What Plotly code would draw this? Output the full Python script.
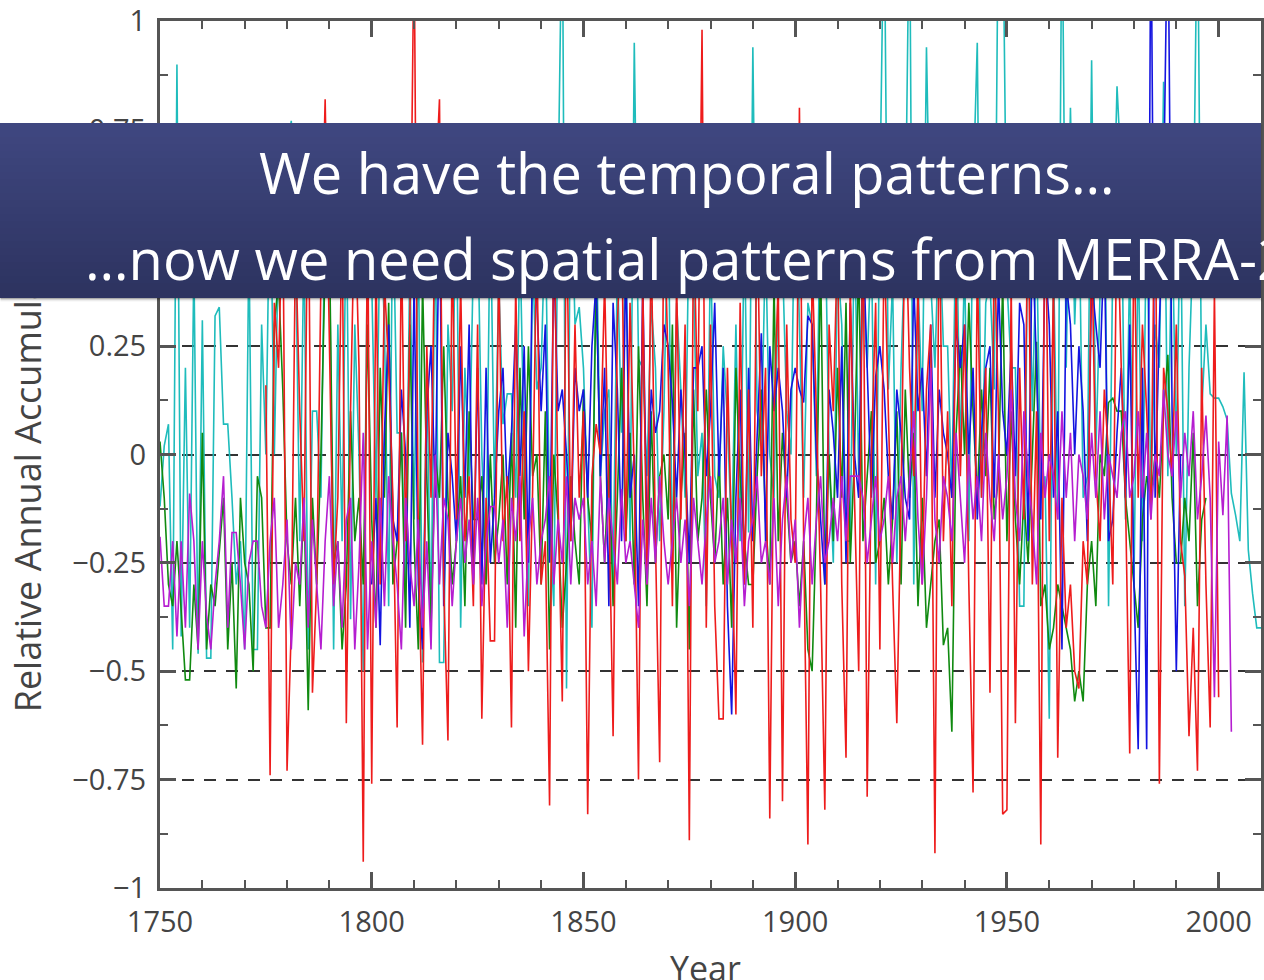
import plotly.graph_objects as go

# ---------------- data ----------------
cyan_start = 1750
cyan_vals = [
    -0.12, 0.02, 0.07, -0.45, 0.90, -0.42, 0.20, -0.40, 0.45, -0.46,
    0.31, -0.47, -0.47, 0.32, 0.34, 0.07, 0.07, -0.10, -0.30, -0.20,
    -0.45, 0.50, -0.45, -0.45, 0.30, 0.00, 0.68, 0.00, 0.50, 0.60,
    0.70, 0.77, 0.50, -0.20, 0.50, -0.45, 0.10, 0.10, -0.10, 0.60,
    0.50, -0.45, 0.30, -0.20, 0.60, -0.38, 0.30, 0.00, -0.50, 0.50,
    0.40, -0.10, 0.55, 0.30, -0.35, 0.60, 0.05, 0.05, -0.30, 0.45,
    -0.15, 0.50, -0.48, 0.20, -0.40, 0.55, -0.48, -0.48, 0.30, 0.10,
    0.60, -0.40, 0.20, -0.05, 0.45, 0.55, 0.00, -0.25, 0.60, -0.10,
    0.40, 0.07, 0.14, 0.14, -0.10, 0.50, 0.00, -0.35, 0.45, 0.15,
    0.20, 0.55, -0.15, -0.35, 0.60, 1.30, -0.54, 0.70, 0.30, 0.34,
    0.20, -0.10, -0.40, 0.55, -0.05, 0.10, 0.15, -0.30, 0.45, 0.05,
    0.50, -0.20, 0.95, 0.22, 0.20, -0.05, 0.35, 0.20, -0.20, 0.10,
    0.60, -0.25, 0.35, 0.15, -0.10, 0.60, 0.40, -0.05, 0.05, -0.35,
    0.50, -0.05, -0.10, 0.25, 0.08, -0.20, 0.30, -0.20, 0.55, -0.18,
    0.94, 0.10, 0.02, 0.50, 0.00, -0.10, 0.40, 0.45, 0.10, 0.00,
    0.70, 0.30, -0.10, 0.35, 0.30, -0.05, 0.65, 0.60, 0.00, -0.25,
    0.45, 0.30, -0.20, -0.20, 0.55, -0.05, 0.40, 0.20, 0.50, -0.30,
    0.60, 1.30, 0.15, 0.40, -0.25, 0.20, 0.50, 1.30, -0.30, 0.40,
    0.10, 0.94, 0.40, 0.20, 0.55, 0.25, 0.25, -0.10, 0.60, 0.00,
    0.45, -0.20, 0.60, 0.95, -0.10, 0.35, 0.40, 0.15, 1.30, 1.30,
    0.40, 0.20, 0.20, -0.35, -0.35, 0.60, 0.10, 0.50, -0.10, -0.05,
    -0.61, 0.45, -0.15, 1.30, 0.20, 0.80, 0.30, 0.60, -0.10, -0.05,
    0.91, 0.00, 0.40, 0.75, -0.35, 0.45, 0.85, 0.65, -0.15, 0.45,
    -0.30, 0.50, -0.20, 0.60, -0.10, 0.30, 0.20, 0.86, -0.05, 0.55,
    0.00, 0.60, -0.35, 0.20, 0.50, 1.30, 0.10, 0.30, 0.14, 0.13,
    0.13, 0.11, 0.08, -0.09, -0.14, -0.20, 0.19, -0.22, -0.32, -0.40,
    -0.40,
]

green_start = 1750
green_vals = [
    0.03, -0.10, -0.30, -0.35, -0.20, -0.35, -0.52, -0.52, -0.30, -0.45,
    0.05, -0.45, -0.30, -0.35, -0.22, -0.10, -0.45, -0.25, -0.54, -0.10,
    -0.25, -0.30, -0.50, -0.05, -0.10, -0.40, -0.40, 0.30, 0.40, 0.15,
    -0.20, -0.30, -0.10, -0.35, -0.10, -0.59, -0.10, -0.30, 0.00, 0.45,
    0.50, -0.25, -0.20, -0.45, -0.30, 0.10, -0.20, -0.10, -0.30, 0.30,
    -0.15, -0.40, 0.20, -0.10, 0.35, -0.30, -0.20, 0.05, -0.40, 0.30,
    -0.20, -0.45, 0.40, -0.05, -0.40, 0.00, -0.10, 0.25, -0.10, -0.30,
    -0.20, -0.05, -0.35, 0.10, -0.15, -0.15, -0.05, -0.30, 0.00, -0.25,
    -0.15, 0.00, -0.30, 0.05, -0.40, 0.20, -0.15, 0.25, -0.05, 0.00,
    -0.30, 0.10, -0.45, 0.00, -0.15, -0.40, -0.25, -0.05, -0.20, -0.30,
    0.15, -0.10, -0.20, 0.40, -0.05, -0.25, 0.00, -0.35, -0.10, 0.20,
    -0.20, 0.05, -0.30, 0.25, -0.10, -0.35, 0.10, -0.25, -0.05, 0.00,
    -0.15, 0.30, -0.40, -0.10, 0.05, -0.45, 0.15, -0.20, -0.10, 0.15,
    -0.10, -0.25, 0.00, -0.30, -0.10, -0.40, 0.20, -0.05, -0.20, -0.30,
    -0.30, -0.05, 0.15, -0.15, -0.30, 0.40, -0.20, 0.05, -0.10, -0.25,
    -0.20, -0.35, -0.20, -0.45, -0.50, -0.15, 0.45, -0.30, 0.00, -0.20,
    0.20, -0.10, 0.35, -0.25, 0.00, 0.45, -0.20, -0.05, 0.10, -0.25,
    -0.20, -0.10, -0.30, -0.15, 0.10, -0.30, 0.15, -0.10, 0.05, -0.35,
    -0.10, -0.40, -0.30, -0.20, -0.15, -0.44, -0.40, -0.64, 0.05, 0.25,
    0.00, 0.35, 0.10, -0.10, 0.15, -0.05, 0.20, -0.15, -0.05, 0.40,
    -0.20, 0.10, -0.15, -0.30, -0.10, -0.25, 0.00, 0.26, -0.35, -0.30,
    -0.45, -0.40, -0.30, -0.35, -0.40, -0.45, -0.57, -0.50, -0.57, -0.30,
    -0.20, -0.35, 0.00, -0.05, 0.12, 0.13, 0.10, 0.10, -0.10, -0.20,
    -0.30, -0.40, -0.15, -0.05, -0.10, 0.00, -0.10, 0.10, 0.23, -0.10,
    -0.25, -0.25, -0.10, -0.20, 0.05, -0.35, -0.15, -0.10,
]

blue_start = 1800
blue_vals = [
    -0.30, -0.10, -0.44, 0.05, 0.30, -0.15, -0.20, 0.15, 0.00, -0.40,
    0.40, -0.30, -0.45, 0.10, 0.25, -0.10, 0.60, -0.35, 0.05, -0.05,
    -0.20, 0.25, -0.10, 0.30, -0.30, 0.20, -0.30, 0.20, -0.25, -0.10,
    0.10, 0.20, -0.10, 0.05, 0.30, -0.05, 0.25, -0.25, 0.50, 0.35,
    0.10, 0.30, -0.25, 0.45, 0.10, 0.15, 0.00, -0.20, 0.20, 0.10,
    0.15, -0.10, 0.25, 0.40, -0.05, 0.20, -0.35, 0.35, 0.15, -0.20,
    0.45, -0.10, 0.00, -0.35, 0.40, -0.20, 0.15, 0.05, 0.10, 0.30,
    0.25, 0.12, -0.10, 0.15, 0.00, -0.25, 0.20, 0.20, 0.25, -0.05,
    0.10, 0.35, -0.05, 0.20, -0.35, -0.60, -0.10, 0.15, -0.30, 0.20,
    -0.20, 0.05, 0.28, -0.20, 0.25, 0.10, 0.20, 0.10, -0.10, 0.15,
    0.20, 0.15, 0.12, 0.32, 0.30, 0.00, -0.15, -0.30, 0.15, 0.05,
    -0.10, 0.25, -0.25, 0.35, 0.00, -0.10, 0.50, 0.20, -0.10, 0.18,
    0.25, 0.15, -0.05, -0.15, 0.15, 0.05, -0.10, -0.15, 0.40, 0.10,
    0.20, -0.05, 0.30, -0.10, 0.15, 0.05, 0.00, -0.10, 0.30, 0.20,
    0.30, 0.00, 0.20, -0.15, 0.05, 0.20, 0.25, -0.10, 0.40, 0.10,
    0.00, 0.25, -0.05, 0.35, 0.30, -0.20, 0.50, 0.20, -0.15, 0.45,
    0.30, -0.10, 0.10, -0.45, 0.40, 0.30, 0.00, 0.25, 0.10, -0.20,
    0.40, 0.30, 0.20, 0.50, -0.20, -0.15, 0.05, 0.20, -0.10, 0.30,
    -0.30, -0.68, 0.20, -0.68, 1.30, -0.10, 0.30, 0.60, 1.30, 0.10,
    -0.50, 0.00,
]

red_start = 1775
red_vals = [
    0.16, -0.74, 0.35, 0.20, 0.60,
    -0.73, -0.40, 0.50, 0.10, -0.20, 0.70, -0.55, -0.30, 0.40, 0.82,
    0.30, -0.30, -0.10, 0.55, -0.62, 0.10, 0.60, 0.20, -0.94, 0.60,
    -0.76, 0.45, -0.30, 0.40, 0.20, -0.10, -0.63, 0.50, -0.20, 0.30,
    1.20, -0.20, -0.67, 0.25, -0.10, 0.60, 0.82, -0.30, -0.66, 0.50,
    -0.15, 0.40, -0.20, -0.05, -0.35, 0.30, -0.61, -0.10, -0.43, -0.43,
    0.45, -0.20, -0.05, -0.63, 0.40, -0.20, 0.10, -0.50, -0.08, 0.50,
    -0.30, -0.20, -0.81, 0.60, -0.10, -0.57, 0.60, -0.20, 0.30, -0.10,
    0.10, -0.83, -0.05, 0.07, 0.00, 0.40, -0.10, -0.65, 0.30, 0.55,
    -0.20, 0.35, -0.05, -0.75, 0.40, -0.30, 0.50, -0.20, -0.71, 0.60,
    0.20, -0.35, 0.40, -0.15, 0.30, -0.89, 0.55, 0.10, 0.98, -0.40,
    0.30, -0.35, -0.61, -0.61, 0.20, -0.20, -0.60, 0.35, -0.30, 0.15,
    -0.40, 0.60, -0.05, 0.20, -0.84, 0.10, 0.40, -0.80, 0.30, -0.15,
    -0.25, 0.80, -0.20, -0.90, 0.45, 0.10, -0.30, -0.82, 0.30, 0.10,
    0.50, -0.30, -0.70, 0.40, -0.10, -0.50, 0.60, -0.79, 0.00, 0.35,
    -0.45, 0.50, 0.10, -0.30, -0.62, -0.10, 0.60, 0.20, -0.05, 0.40,
    -0.30, 0.15, 0.30, -0.92, 0.60, -0.20, 0.10, -0.35, 0.40, -0.05,
    0.30, -0.30, -0.78, 0.45, -0.10, 0.20, -0.55, 0.50, 0.10, -0.83,
    -0.82, 0.40, -0.62, 0.20, -0.15, 0.60, -0.30, 0.10, -0.90, 0.70,
    -0.20, 0.40, -0.70, -0.10, -0.40, -0.30, -0.50, -0.54, -0.20, -0.30,
    0.50, -0.05, -0.20, 0.15, 0.00, -0.30, 0.60, 0.20, -0.10, -0.69,
    0.55, -0.10, 0.30, 0.10, -0.15, 0.70, -0.76, 0.20, 0.10, -0.05,
    0.30, -0.20, -0.28, -0.65, -0.40, -0.73, 0.20, -0.30, -0.63, 0.38,
    -0.56,
]

magenta_start = 1750
magenta_vals = [
    -0.19, -0.35, -0.35, -0.20, -0.42, -0.20, -0.40, -0.09, -0.20, -0.45,
    -0.20, -0.37, -0.45, -0.30, -0.20, -0.05, -0.40, -0.18, -0.18, -0.30,
    -0.45, -0.25, -0.20, -0.20, -0.35, -0.40, -0.20, -0.10, -0.40, -0.30,
    -0.15, -0.45, -0.25, -0.30, -0.10, -0.40, -0.15, -0.30, -0.45, -0.20,
    -0.05, -0.35, -0.20, -0.40, -0.15, -0.10, -0.45, -0.25, 0.05, -0.45,
    -0.20, -0.40, -0.10, -0.35, -0.05, -0.20, -0.30, -0.45, -0.10, -0.25,
    -0.35, -0.15, -0.40, -0.20, -0.45, 0.00, -0.30, -0.10, -0.15, -0.35,
    -0.20, -0.10, -0.25, -0.15, -0.30, -0.10, -0.35, -0.20, -0.12, -0.12,
    -0.25, -0.15, -0.40, -0.10, -0.20, -0.05, -0.42, -0.20, -0.10, -0.30,
    -0.20, -0.15, -0.05, -0.30, -0.15, -0.25, -0.05, -0.30, -0.10, -0.15,
    -0.10, -0.30, -0.20, -0.35, -0.05, -0.25, -0.10, -0.20, -0.30, -0.08,
    -0.25, -0.20, -0.30, -0.40, -0.15, -0.30, -0.10, -0.25, -0.05, -0.20,
    -0.30, -0.20, -0.10, -0.25, -0.15, -0.35, -0.10, -0.20, -0.30, -0.15,
    -0.05, -0.25, -0.20, -0.10, -0.30, -0.15, -0.25, -0.10, -0.35, -0.20,
    -0.15, -0.05, -0.25, -0.20, -0.30, -0.10, -0.35, -0.15, -0.05, -0.25,
    -0.15, -0.40, -0.20, -0.10, -0.30, -0.15, -0.05, -0.25, -0.20, -0.10,
    -0.20, -0.05, -0.20, -0.05, -0.05, -0.05, -0.10, -0.25, -0.15, -0.05,
    -0.20, -0.15, -0.05, -0.25, -0.10, -0.05, -0.20, -0.05, 0.10, -0.15,
    -0.30, -0.10, 0.20, -0.15, -0.25, -0.05, -0.10, -0.20, 0.05, -0.10,
    -0.25, 0.00, -0.15, -0.05, -0.20, 0.05, -0.10, -0.20, 0.00, -0.15,
    -0.05, 0.15, -0.10, -0.20, 0.10, -0.05, -0.15, -0.30, 0.05, -0.10,
    0.00, -0.05, -0.15, 0.10, -0.10, 0.05, -0.20, 0.00, -0.05, -0.15,
    0.05, -0.10, 0.10, -0.15, 0.00, -0.05, -0.10, 0.05, 0.10, -0.10,
    -0.05, 0.10, -0.10, 0.05, -0.15, 0.00, -0.05, 0.15, 0.00, -0.05,
    0.10, -0.10, 0.05, -0.05, 0.10, -0.15, -0.05, 0.09, -0.10, -0.56,
    0.03, -0.14, 0.09, -0.64,
]

y_tick_vals = [-1, -0.75, -0.5, -0.25, 0, 0.25, 0.5, 0.75, 1]
y_tick_text = ["\u22121", "\u22120.75", "\u22120.5", "\u22120.25", "0", "0.25", "0.5", "0.75", "1"]
x_tick_vals = [1750, 1800, 1850, 1900, 1950, 2000]
x_tick_text = ["1750", "1800", "1850", "1900", "1950", "2000"]

banner_line1 = "We have the temporal patterns\u2026"
banner_line2 = "\u2026now we need spatial patterns from MERRA-2"
x_title = "Year"
y_title = "Relative Annual Accumulation"

# ---------------- figure ----------------
W, H = 1264, 980
ML, MR, MT, MB = 160, 0, 17, 92
PW, PH = W - ML - MR, H - MT - MB


def px_x(x):
    return (x - ML) / PW


def px_y(y):
    return (H - MB - y) / PH


def years(start, vals):
    return list(range(start, start + len(vals)))


series = [
    ("cyan", cyan_start, cyan_vals, "#1fbcbc"),
    ("green", green_start, green_vals, "#108a10"),
    ("blue", blue_start, blue_vals, "#1414e0"),
    ("red", red_start, red_vals, "#ee1c1c"),
    ("magenta", magenta_start, magenta_vals, "#b51ed0"),
]

fig = go.Figure()
for name, st, vals, col in series:
    fig.add_trace(go.Scatter(x=years(st, vals), y=vals, mode="lines", name=name,
                             line=dict(color=col, width=1.6), showlegend=False))

axis_col = "#555555"
tick_font = dict(family="Open Sans", size=29, color="#444444")

fig.update_layout(
    width=W, height=H,
    margin=dict(l=ML, r=MR, t=MT, b=MB, pad=0),
    paper_bgcolor="white", plot_bgcolor="white",
    xaxis=dict(range=[1750, 2010], tickvals=x_tick_vals, ticktext=x_tick_text,
               ticks="inside", ticklen=16, tickwidth=2.5, tickcolor=axis_col,
               minor=dict(dtick=10, tick0=1750, ticks="inside", ticklen=8, tickwidth=2.2, tickcolor=axis_col, showgrid=False),
               showline=True, linecolor=axis_col, linewidth=3, mirror="allticks",
               showgrid=False, zeroline=False, tickfont=tick_font, ticklabelstandoff=6,
               ticklabeloverflow="allow"),
    yaxis=dict(range=[-1.0004, 1.0004], tickvals=y_tick_vals, ticktext=y_tick_text,
               ticks="inside", ticklen=16, tickwidth=2.5, tickcolor=axis_col,
               minor=dict(dtick=0.125, tick0=-1, ticks="inside", ticklen=8, tickwidth=2.2, tickcolor=axis_col, showgrid=False),
               showline=True, linecolor=axis_col, linewidth=3, mirror="allticks",
               showgrid=True, gridcolor="#333333", gridwidth=1.5, griddash="12px,10px",
               zeroline=False, tickfont=tick_font, ticklabelstandoff=5,
               ticklabeloverflow="allow"),
)

# axis titles (added before the banner so the banner covers their hidden part)
fig.add_annotation(text=x_title, xref="paper", yref="paper", x=px_x(707), y=px_y(968),
                   showarrow=False, font=dict(family="Open Sans", size=34, color="#444444"),
                   xanchor="center", yanchor="middle")
fig.add_annotation(text=y_title, xref="paper", yref="paper", x=px_x(28), y=px_y(461),
                   showarrow=False, textangle=-90, font=dict(family="Open Sans", size=36, color="#444444"),
                   xanchor="center", yanchor="middle")

# banner
top_px, bot_px, right_px = 120, 295, 1262
top_rgb, bot_rgb = (63, 71, 128), (45, 51, 96)
# soft shadow around the banner
for k, a in enumerate([0.22, 0.12, 0.06, 0.03]):
    fig.add_shape(type="rect", xref="paper", yref="paper", layer="above",
                  x0=px_x(0), x1=px_x(right_px + k + 1), y0=px_y(bot_px + k + 1), y1=px_y(top_px + 1),
                  fillcolor="rgba(0,0,0,%.2f)" % a, line=dict(width=0))
# gradient body built from stacked strips (annotation boxes so they sit above the axis title)
n = 25
step = (bot_px - top_px) / n
for i in range(n):
    t = i / (n - 1)
    c = tuple(round(a + (b - a) * t) for a, b in zip(top_rgb, bot_rgb))
    yc = top_px + step * (i + 0.5)
    fig.add_annotation(text=" ", xref="paper", yref="paper", x=px_x(right_px / 2), y=px_y(yc),
                       xanchor="center", yanchor="middle", showarrow=False,
                       width=right_px, height=step + 1.2, bgcolor="rgb(%d,%d,%d)" % c,
                       borderpad=0, borderwidth=0, font=dict(size=1))

banner_font = dict(family="Open Sans", size=56, color="white")
fig.add_annotation(text=banner_line1, xref="paper", yref="paper", x=px_x(688), y=px_y(169),
                   showarrow=False, font=banner_font, xanchor="center", yanchor="middle")
fig.add_annotation(text=banner_line2, xref="paper", yref="paper", x=px_x(688), y=px_y(255),
                   showarrow=False, font=banner_font, xanchor="center", yanchor="middle")

fig.write_html("out.html", config={"displayModeBar": False},
               post_script="document.body.style.margin='0';document.body.style.overflow='hidden';")
